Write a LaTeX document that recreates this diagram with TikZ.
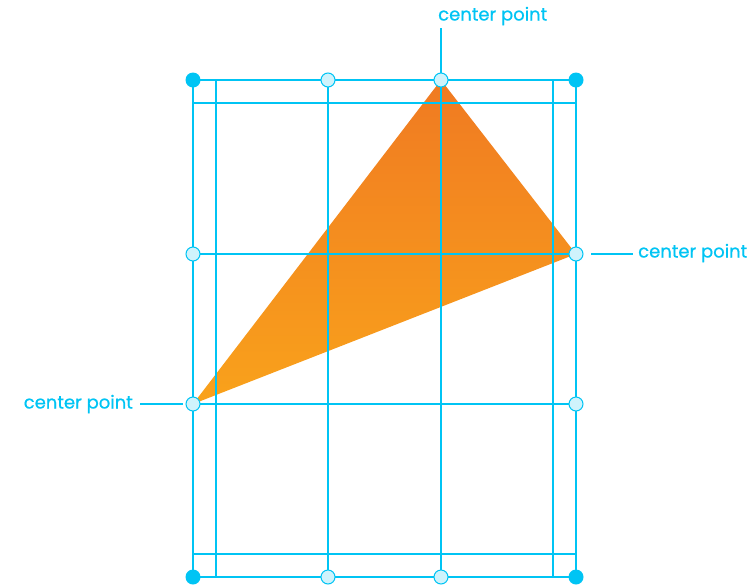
\documentclass[tikz,border=0pt]{standalone}
\usepackage{fontspec}
\setmainfont{Poppins}
\newfontfamily\calloutfont{Poppins}[FakeBold=0.6]
\usepackage{xcolor}
\definecolor{guide-blue}{HTML}{00C4F4}
\definecolor{handle-fill}{HTML}{CFF3FC}
\definecolor{shape-top}{HTML}{F07A22}
\definecolor{shape-bottom}{HTML}{F9A21B}
\usetikzlibrary{positioning}

\begin{document}
\begin{tikzpicture}[
    x=1pt, y=-1pt,
    guide/.style={
      draw=guide-blue,
      line width=1.4pt
    },
    corner/.style={
      circle,
      fill=guide-blue,
      inner sep=0pt,
      minimum size=15pt
    },
    handle/.style={
      circle,
      draw=guide-blue,
      fill=handle-fill,
      line width=1pt,
      inner sep=0pt,
      minimum size=14pt
    },
    callout/.style={
      font=\calloutfont\fontsize{18}{21}\selectfont,
      text=guide-blue,
      inner sep=0pt
    },
    leader/.style={
      draw=guide-blue,
      line width=1.4pt
    }
  ]
    \useasboundingbox (0,0) rectangle (750,587);

    % triangle
    \shade[top color=shape-top, bottom color=shape-bottom]
      (441,80) -- (576,254) -- (193,404) -- cycle;

    % vertical guides
    \foreach \gx in {193,216,328,441,553,576}
      \draw[guide] (\gx,80) -- (\gx,577);
    % horizontal guides
    \foreach \gy in {80,103,254,404,554,577}
      \draw[guide] (193,\gy) -- (576,\gy);

    % corner handles
    \node[corner] (tl) at (193,80) {};
    \node[corner] (tr) at (576,80) {};
    \node[corner] (bl) at (193,577) {};
    \node[corner] (br) at (576,577) {};
    % edge handles
    \node[handle] (t1) at (328,80) {};
    \node[handle] (t2) at (441,80) {};
    \node[handle] (l1) at (193,254) {};
    \node[handle] (r1) at (576,254) {};
    \node[handle] (l2) at (193,404) {};
    \node[handle] (r2) at (576,404) {};
    \node[handle] (b1) at (328,577) {};
    \node[handle] (b2) at (441,577) {};

    % callouts
    \node[callout, anchor=west] (top-label)   at (438,16)  {center point};
    \node[callout, anchor=west] (right-label) at (638,253) {center point};
    \node[callout, anchor=east] (left-label)  at (133,404) {center point};

    \coordinate (top-end)   at (441,28);
    \coordinate (right-end) at (633,254);
    \coordinate (left-end)  at (140,404);
    \coordinate (right-gap) at (591,254);
    \coordinate (left-gap)  at (183,404);

    \draw[leader] (top-end) -- (t2);
    \draw[leader] (right-gap) -- (right-end);
    \draw[leader] (left-end) -- (left-gap);
  \end{tikzpicture}
\end{document}
